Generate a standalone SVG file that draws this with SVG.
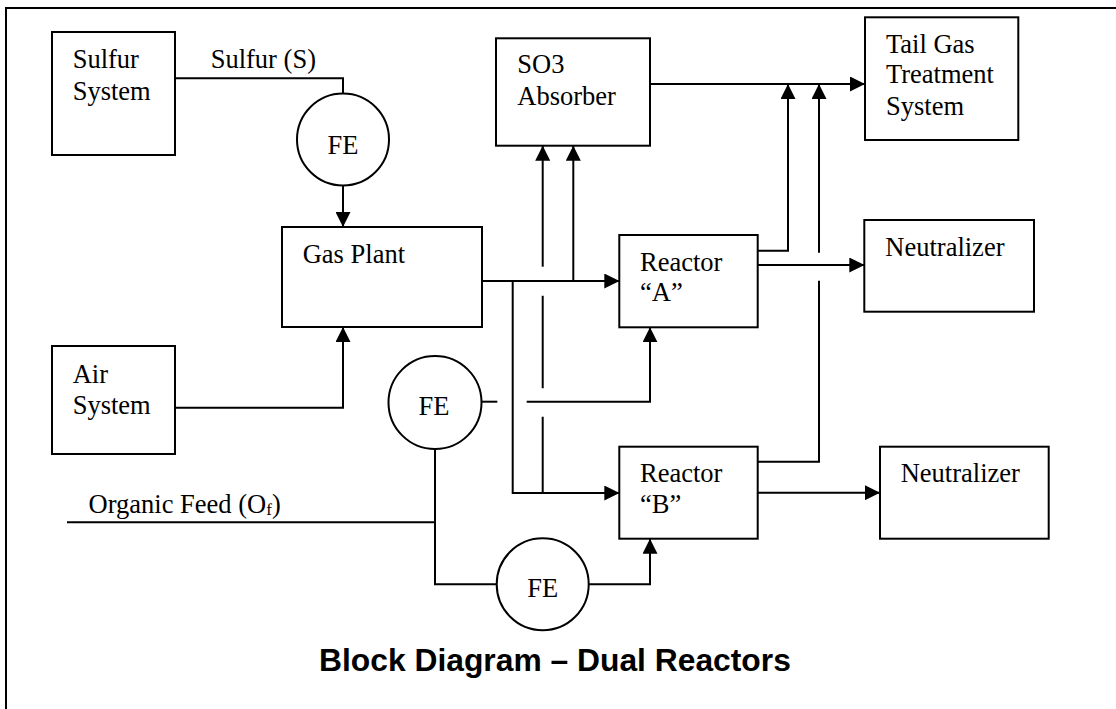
<svg xmlns="http://www.w3.org/2000/svg" width="1116" height="709" viewBox="0 0 1116 709">
<style>
.box{fill:#fff;stroke:#000;stroke-width:2}
.circ{fill:#fff;stroke:#000;stroke-width:2}
.ln{fill:none;stroke:#000;stroke-width:2}
.t{font-family:"Liberation Serif","Times New Roman",serif;font-size:26.5px;fill:#000}
.c{text-anchor:middle}
.title{font-family:"Liberation Sans",Arial,sans-serif;font-size:31.8px;font-weight:bold;fill:#000}
</style>
<defs>
<marker id="ah" markerUnits="userSpaceOnUse" markerWidth="15" markerHeight="15" refX="15" refY="7.5" orient="auto">
<path d="M0,0 L15,7.5 L0,15 z" fill="#000"/>
</marker>
</defs>
<rect x="0" y="0" width="1116" height="709" fill="#fff"/>
<rect id="frame" x="6" y="8" width="1200" height="800" fill="none" stroke="#000" stroke-width="2"/>

<g id="connectors" class="ln">
<path d="M175,78.3 H343 V93.5"/>
<path d="M343,185.5 V227" marker-end="url(#ah)"/>
<path d="M175,407.7 H343 V327" marker-end="url(#ah)"/>
<path d="M482,281 H619.3" marker-end="url(#ah)"/>
<path d="M573.3,281 V145.7" marker-end="url(#ah)"/>
<path d="M542.7,493 V416.7 M542.7,388.3 V295.7"/>
<path d="M542.7,266.7 V145.7" marker-end="url(#ah)"/>
<path d="M512.7,281 V493 H619.3" marker-end="url(#ah)"/>
<path d="M481.7,401.7 H497.3"/>
<path d="M526.7,401.7 H650 V327.3" marker-end="url(#ah)"/>
<path d="M67,522.3 H435"/>
<path d="M435,449 V584.3 H496.7"/>
<path d="M588.7,584.3 H650 V538.7" marker-end="url(#ah)"/>
<path d="M650,84 H865" marker-end="url(#ah)"/>
<path d="M757.7,250.7 H788 V84" marker-end="url(#ah)"/>
<path d="M757.7,265 H864.3" marker-end="url(#ah)"/>
<path d="M757.7,461.7 H819 V280.7"/>
<path d="M819,252.7 V84" marker-end="url(#ah)"/>
<path d="M757.7,492.7 H880" marker-end="url(#ah)"/>
</g>

<g id="sulfur-system">
<rect class="box" x="52" y="32" width="123" height="123"/>
<text class="t" x="72.7" y="68.3">Sulfur</text>
<text class="t" x="72.7" y="100">System</text>
</g>
<g id="sulfur-label">
<text class="t" x="210.7" y="68.3">Sulfur (S)</text>
</g>
<g id="fe-sulfur">
<circle class="circ" cx="343" cy="139.5" r="46"/>
<text class="t c" x="343" y="154">FE</text>
</g>
<g id="gas-plant">
<rect class="box" x="282" y="227" width="200" height="100"/>
<text class="t" x="302.7" y="263.3">Gas Plant</text>
</g>
<g id="air-system">
<rect class="box" x="52" y="346" width="123" height="108"/>
<text class="t" x="72.7" y="383.3">Air</text>
<text class="t" x="72.7" y="414.3">System</text>
</g>
<g id="so3-absorber">
<rect class="box" x="496" y="38.3" width="154" height="107.4"/>
<text class="t" x="517.3" y="73.3">SO3</text>
<text class="t" x="517.3" y="105">Absorber</text>
</g>
<g id="tail-gas">
<rect class="box" x="865" y="17.3" width="153.3" height="122.7"/>
<text class="t" x="886" y="53.3">Tail Gas</text>
<text class="t" x="886" y="83.3">Treatment</text>
<text class="t" x="886" y="115">System</text>
</g>
<g id="reactor-a">
<rect class="box" x="619.3" y="235" width="138.4" height="92.3"/>
<text class="t" x="640" y="270.7">Reactor</text>
<text class="t" x="640" y="300.7">“A”</text>
</g>
<g id="reactor-b">
<rect class="box" x="619.3" y="446.7" width="138.4" height="92"/>
<text class="t" x="640" y="481.7">Reactor</text>
<text class="t" x="640" y="512.5">“B”</text>
</g>
<g id="neutralizer-1">
<rect class="box" x="864.3" y="220" width="169.7" height="91.7"/>
<text class="t" x="885.3" y="256">Neutralizer</text>
</g>
<g id="neutralizer-2">
<rect class="box" x="880" y="446.7" width="168.7" height="92"/>
<text class="t" x="900.7" y="482.3">Neutralizer</text>
</g>
<g id="fe-mid">
<circle class="circ" cx="435" cy="402.5" r="46.5"/>
<text class="t c" x="434" y="415">FE</text>
</g>
<g id="fe-bottom">
<circle class="circ" cx="542.7" cy="584.3" r="46"/>
<text class="t c" x="542.7" y="596.7">FE</text>
</g>
<g id="organic-feed">
<text class="t" x="88.6" y="513.3">Organic Feed (O<tspan font-size="17" dy="2">f</tspan><tspan dy="-2">)</tspan></text>
</g>
<g id="title">
<text class="title" x="319" y="670.7">Block Diagram – Dual Reactors</text>
</g>
</svg>
